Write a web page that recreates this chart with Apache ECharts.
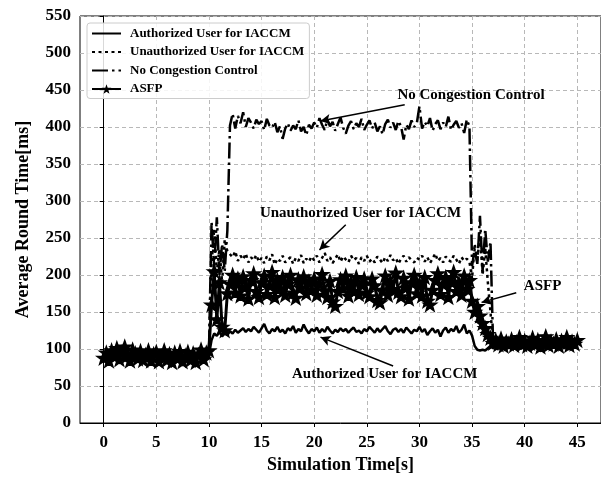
<!DOCTYPE html>
<html>
<head>
<meta charset="utf-8">
<script src="https://cdn.jsdelivr.net/npm/echarts@6/dist/echarts.min.js"></script>
<style>
    html, body { margin: 0; padding: 0; background: #fff; }
    #chart { width: 601px; height: 480px; }
</style>
</head>
<body>
<div id="chart"></div>
<script>
// sampling step of the simulation trace, in seconds
var sampleStep = 0.25;

var xTicks = [0, 5, 10, 15, 20, 25, 30, 35, 40, 45];

var seriesNames = [
    'Authorized User for IACCM',
    'Unauthorized User for IACCM',
    'No Congestion Control',
    'ASFP'
];

// average round time [ms], one value every 0.25 s from 0 to 45 s
var authorizedRtt = [
    89, 91, 88, 92, 90, 94, 89, 91, 93, 90, 88, 92, 90, 89, 91, 88, 90, 92, 89, 90,
    91, 88, 89, 92, 87, 90, 88, 91, 89, 90, 87, 89, 91, 88, 90, 87, 89, 91, 88, 90,
    92, 112, 121, 118, 123, 117, 121, 119, 124, 121, 126, 122, 125, 128, 123, 127, 124, 130, 126, 122,
    128, 134, 125, 121, 127, 124, 130, 123, 126, 121, 128, 125, 131, 122, 127, 124, 133, 126, 121, 127,
    124, 129, 122, 127, 123, 130, 125, 121, 126, 123, 128, 124, 127, 122, 126, 129, 123, 125, 121, 127,
    124, 130, 126, 122, 128, 123, 127, 131, 124, 120, 126, 128, 123, 127, 122, 129, 125, 121, 126, 124,
    130, 123, 127, 119, 124, 128, 122, 126, 117, 125, 129, 122, 127, 124, 131, 122, 126, 133, 121, 125,
    118, 104, 99, 98, 99, 98, 101, 104, 101, 103, 100, 104, 102, 100, 103, 101, 104, 100, 102, 103,
    101, 104, 100, 102, 105, 101, 103, 100, 104, 102, 101, 105, 100, 103, 102, 104, 101, 103, 100, 102,
    103
];

var unauthorizedRtt = [
    91, 88, 92, 90, 94, 89, 91, 87, 93, 90, 92, 88, 90, 91, 89, 93, 88, 90, 92, 89,
    90, 92, 88, 91, 89, 87, 92, 90, 88, 91, 89, 93, 87, 90, 92, 88, 91, 89, 90, 88,
    95, 215, 262, 205, 235, 190, 248, 232, 228, 224, 232, 219, 226, 221, 229, 217, 224, 220, 227, 218,
    223, 216, 225, 220, 228, 214, 222, 219, 226, 217, 221, 224, 215, 223, 219, 227, 216, 222, 218, 225,
    220, 226, 217, 223, 230, 219, 224, 216, 222, 228, 218, 225, 221, 217, 226, 220, 223, 215, 224, 219,
    226, 218, 222, 217, 225, 221, 216, 224, 219, 227, 220, 223, 215, 222, 226, 218, 224, 220, 217, 223,
    221, 226, 218, 224, 216, 222, 229, 219, 223, 217, 225, 220, 218, 226, 221, 215, 224, 219, 222, 218,
    195, 242, 218, 258, 200, 236, 190, 150, 108, 104, 107, 103, 106, 102, 105, 108, 103, 106, 104, 107,
    103, 106, 104, 108, 102, 105, 107, 103, 106, 104, 102, 107, 105, 103, 106, 104, 108, 103, 105, 104,
    106
];

var noControlRtt = [
    90, 92, 89, 91, 93, 88, 90, 92, 89, 91, 90, 88, 92, 90, 89, 91, 93, 89, 90, 91,
    89, 91, 90, 88, 92, 89, 90, 91, 88, 90, 92, 89, 91, 88, 90, 89, 91, 90, 88, 91,
    96, 272, 210, 278, 200, 242, 205, 260, 402, 418, 398, 415, 405, 420, 400, 412, 406, 398, 410, 404,
    408, 396, 411, 402, 399, 407, 393, 401, 384, 398, 405, 395, 402, 397, 409, 394, 400, 389, 403, 398,
    406, 399, 412, 403, 396, 410, 401, 407, 395, 404, 413, 399, 391, 402, 408, 397, 405, 400, 411, 396,
    403, 409, 398, 406, 394, 401, 390, 404, 410, 399, 406, 396, 408, 401, 383, 403, 397, 409, 400, 405,
    428, 398, 407, 401, 412, 395, 404, 409, 397, 406, 400, 414, 396, 403, 408, 399, 405, 392, 410, 401,
    212, 235, 215, 280, 205, 262, 218, 245, 105, 101, 104, 100, 103, 106, 101, 104, 102, 105, 100, 103,
    104, 101, 105, 102, 100, 104, 103, 106, 101, 104, 102, 105, 100, 103, 104, 101, 105, 102, 103, 101,
    104
];

var asfpRtt = [
    88, 95, 84, 98, 90, 101, 86, 96, 103, 91, 84, 99, 94, 87, 97, 85, 92, 98, 84, 93,
    96, 83, 90, 98, 85, 93, 82, 95, 87, 97, 83, 91, 96, 85, 94, 82, 92, 99, 86, 95,
    98, 160, 205, 140, 190, 130, 125, 175, 188, 200, 176, 195, 172, 198, 184, 168, 193, 202, 178, 170,
    190, 199, 174, 186, 204, 170, 193, 182, 197, 173, 188, 200, 176, 169, 194, 183, 198, 175, 191, 180,
    195, 173, 188, 201, 179, 170, 192, 164, 158, 178, 194, 182, 199, 172, 190, 178, 197, 174, 187, 195,
    176, 171, 195, 186, 166, 163, 180, 199, 173, 191, 181, 203, 177, 171, 196, 183, 168, 190, 200, 175,
    188, 172, 197, 165, 160, 180, 193, 202, 174, 188, 197, 170, 191, 204, 178, 189, 173, 199, 181, 193,
    165, 150, 158, 145, 135, 128, 120, 115, 108, 112, 106, 114, 104, 110, 107, 113, 105, 109, 116, 106,
    111, 104, 108, 115, 106, 112, 103, 109, 117, 105, 110, 107, 113, 104, 111, 108, 116, 105, 110, 107,
    112
];

// annotation texts: [label, text position, arrow tail, arrow head] in data units
var notes = [
    ['No Congestion Control', [34.9, 443], [28.6, 430], [20.6, 408]],
    ['Unauthorized User for IACCM', [24.4, 284], [23.0, 268], [20.5, 234]],
    ['Authorized User for IACCM', [26.7, 66], [27.5, 77], [20.6, 116]],
    ['ASFP', [41.7, 185], [39.2, 176], [35.9, 163]]
];

var serifFont = '"Liberation Serif", "DejaVu Serif", "Times New Roman", serif';
var starPath = 'path://M0,-10 L2.35,-3.24 L9.51,-3.09 L3.8,1.24 L5.88,8.09 L0,4 L-5.88,8.09 L-3.8,1.24 L-9.51,-3.09 L-2.35,-3.24 Z';

var toPairs = function(values) {
    return values.map(function(v, i) {
        return [i * sampleStep, v];
    });
};

var baseSerie = function(name, values, dash) {
    return {
        name: name,
        type: 'line',
        data: toPairs(values),
        // symbols stay hidden; the legend hides its circle through a transparent itemStyle
        symbol: 'circle',
        showSymbol: false,
        itemStyle: { color: '#000' },
        lineStyle: { color: '#000', width: 2.5, type: dash },
        z: 2
    };
};

var chart = echarts.init(document.getElementById('chart'), null, { renderer: 'canvas' });

var series = [
    baseSerie(seriesNames[0], authorizedRtt, 'solid'),
    baseSerie(seriesNames[1], unauthorizedRtt, [3, 3.5]),
    baseSerie(seriesNames[2], noControlRtt, [16, 4, 2.5, 4])
];

var asfp = baseSerie(seriesNames[3], asfpRtt, 'solid');
asfp.symbol = starPath;
asfp.symbolSize = 13;
asfp.symbolKeepAspect = true;
asfp.showSymbol = true;
asfp.showAllSymbol = true;
asfp.itemStyle = { color: '#000', borderColor: '#000', borderWidth: 1.5 };
asfp.lineStyle.width = 3;
asfp.z = 3;
series.push(asfp);

// arrows and labels
series.push({
    name: 'notes',
    type: 'scatter',
    data: [],
    z: 5,
    markLine: {
        silent: true,
        symbol: ['none', 'arrow'],
        symbolSize: [8, 10],
        label: { show: false },
        lineStyle: { color: '#000', width: 1.5, type: 'solid' },
        data: notes.map(function(n) {
            return [{ coord: n[2] }, { coord: n[3] }];
        })
    },
    markPoint: {
        silent: true,
        symbol: 'circle',
        symbolSize: 0,
        itemStyle: { color: 'transparent' },
        label: {
            show: true,
            position: 'inside',
            color: '#000',
            fontFamily: serifFont,
            fontWeight: 'bold',
            fontSize: 15,
            formatter: function(p) { return p.name; }
        },
        data: notes.map(function(n) {
            return { name: n[0], coord: n[1] };
        })
    }
});

var hiddenMark = { color: 'rgba(0,0,0,0)', borderColor: 'rgba(0,0,0,0)', borderWidth: 0 };

var option = {
    animation: false,
    backgroundColor: '#fff',
    textStyle: { fontFamily: serifFont },
    grid: {
        left: 80,
        top: 16,
        width: 525,
        height: 407,
        show: true,
        borderColor: '#000',
        borderWidth: 1
    },
    legend: {
        data: [
            { name: seriesNames[0], itemStyle: hiddenMark },
            { name: seriesNames[1], itemStyle: hiddenMark },
            { name: seriesNames[2], itemStyle: hiddenMark },
            { name: seriesNames[3], itemStyle: { color: '#000', borderWidth: 0 } }
        ],
        orient: 'vertical',
        left: 87,
        top: 23,
        itemWidth: 29,
        itemHeight: 12,
        itemGap: 5.5,
        padding: [4, 5, 3, 4],
        backgroundColor: 'rgba(255,255,255,0.85)',
        borderColor: '#cccccc',
        borderWidth: 1,
        borderRadius: 3,
        textStyle: {
            color: '#000',
            fontFamily: serifFont,
            fontWeight: 'bold',
            fontSize: 13,
            padding: [0, 0, 0, 4]
        }
    },
    xAxis: {
        type: 'value',
        min: -2.25,
        max: 47.25,
        name: 'Simulation Time[s]',
        nameLocation: 'middle',
        nameGap: 31,
        nameTextStyle: { color: '#000', fontFamily: serifFont, fontWeight: 'bold', fontSize: 18 },
        axisLine: { lineStyle: { color: '#000', width: 1 } },
        axisTick: { show: true, length: 4, customValues: xTicks, lineStyle: { color: '#000' } },
        axisLabel: {
            customValues: xTicks,
            margin: 11,
            color: '#000',
            fontFamily: serifFont,
            fontWeight: 'bold',
            fontSize: 17
        },
        splitLine: { show: true, lineStyle: { color: '#b8b8b8', width: 1, type: [4, 3] } }
    },
    yAxis: {
        type: 'value',
        min: 0,
        max: 550,
        interval: 50,
        name: 'Average Round Time[ms]',
        nameLocation: 'middle',
        nameGap: 48,
        nameTextStyle: { color: '#000', fontFamily: serifFont, fontWeight: 'bold', fontSize: 18 },
        axisLine: { show: true, lineStyle: { color: '#000', width: 1 } },
        axisTick: { show: true, length: 4, lineStyle: { color: '#000' } },
        axisLabel: {
            margin: 9,
            color: '#000',
            fontFamily: serifFont,
            fontWeight: 'bold',
            fontSize: 17
        },
        splitLine: { show: true, lineStyle: { color: '#b8b8b8', width: 1, type: [4, 3] } }
    },
    series: series
};

chart.setOption(option);
</script>
</body>
</html>
